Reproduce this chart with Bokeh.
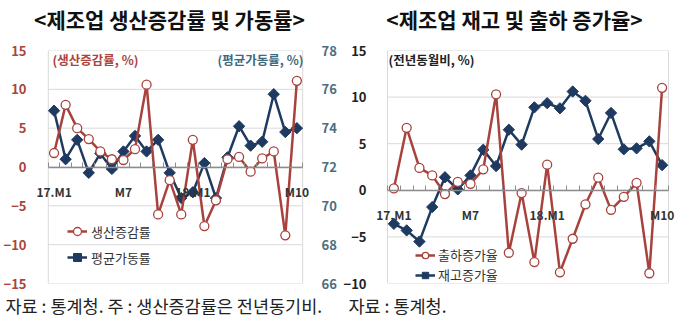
from bokeh.plotting import figure
from bokeh.layouts import row, column
from bokeh.models import Range1d, LinearAxis, FixedTicker, Label, Legend, LegendItem
from bokeh.embed import file_html
from bokeh.resources import INLINE
import math

# ---------------- data ----------------
months = ["17.M1", "M2", "M3", "M4", "M5", "M6", "M7", "M8", "M9", "M10", "M11", "M12",
          "18.M1", "M2", "M3", "M4", "M5", "M6", "M7", "M8", "M9", "M10"]
shown_ticks = {0: "17.M1", 6: "M7", 12: "18.M1", 21: "M10"}

production = [1.8, 8.0, 5.0, 3.6, 2.0, 1.0, 0.9, 2.3, 10.6, -6.1, -1.7, -6.1,
              3.5, -7.6, -4.3, 1.0, 1.3, -0.6, 1.1, 2.0, -8.8, 11.1]
utilization = [74.9, 72.4, 73.4, 71.7, 72.7, 71.9, 72.8, 73.6, 72.8, 73.4, 71.7, 70.4,
               70.7, 72.2, 70.4, 72.5, 74.1, 73.1, 73.3, 75.75, 73.8, 74.0]
shipment = [0.2, 6.7, 2.4, 1.6, -0.4, 0.9, 0.7, 2.25, 10.3, -6.7, -0.3, -7.7,
            2.75, -8.8, -5.2, -1.5, 1.35, -2.1, -0.7, 0.8, -8.9, 11.0]
inventory = [-3.6, -4.3, -5.5, -1.8, 1.4, 0.1, 1.6, 4.35, 2.6, 6.5, 4.9, 8.9,
             9.35, 8.8, 10.6, 9.6, 5.5, 8.3, 4.4, 4.5, 5.25, 2.7]

left_ticks = [-15, -10, -5, 0, 5, 10, 15]
right_ticks = [66, 68, 70, 72, 74, 76, 78]
right2_ticks = [-10, -5, 0, 5, 10, 15]

titles = ["<제조업 생산증감률 및 가동률>", "<제조업 재고 및 출하 증가율>"]
sources = ["자료 : 통계청. 주 : 생산증감률은 전년동기비.", "자료 : 통계청."]

xs = list(range(len(months)))
N = len(months)
PA0, PA1 = -0.5, N - 0.5  # plot-area extent in category units

FONT = "Noto Sans CJK KR"
RED = "#a8423d"
NAVY = "#1f3a60"
RED_LBL = "#a9443e"
TEAL_LBL = "#4b6e80"
GRID = "#d9d9d9"
AXIS = "#8c8c8c"


def blank(p):
    p.outline_line_color = None
    p.background_fill_color = "white"
    p.border_fill_color = "white"


def style_xaxis(p):
    ax = p.xaxis[0]
    ax.fixed_location = 0
    ax.bounds = (PA0, PA1)
    ax.ticker = FixedTicker(ticks=list(shown_ticks.keys()),
                            minor_ticks=[i - 0.5 for i in range(N + 1)])
    ax.major_label_overrides = dict(shown_ticks)
    ax.major_tick_line_color = None
    ax.minor_tick_in = 5
    ax.minor_tick_out = 0
    ax.minor_tick_line_color = AXIS
    ax.minor_tick_line_width = 1
    ax.axis_line_color = AXIS
    ax.axis_line_width = 1.5
    ax.major_label_standoff = 10
    ax.major_label_text_font = FONT
    ax.major_label_text_font_style = "bold"
    ax.major_label_text_font_size = "12px"
    ax.major_label_text_color = "#333333"
    p.xgrid.visible = False
    p.ygrid.visible = False


def style_yaxis(ax, color, standoff):
    ax.axis_line_color = None
    ax.major_tick_line_color = None
    ax.minor_tick_line_color = None
    ax.major_label_standoff = standoff
    ax.major_label_text_font = FONT
    ax.major_label_text_font_style = "bold"
    ax.major_label_text_font_size = "13px"
    ax.major_label_text_color = color


def plot_area(p, ticks):
    # horizontal grid lines and side borders restricted to the plot area
    p.segment(x0=[PA0] * len(ticks), x1=[PA1] * len(ticks), y0=ticks, y1=ticks,
              line_color=GRID, line_width=1)
    p.segment(x0=[PA0, PA1], x1=[PA0, PA1], y0=[min(ticks)] * 2, y1=[max(ticks)] * 2,
              line_color=GRID, line_width=1)


def add_label(p, x, y, text, size, color="#222222", style="normal", align="left"):
    p.add_layout(Label(x=x, y=y, x_units="screen", y_units="screen", text=text,
                       text_font=FONT, text_font_size=size, text_font_style=style,
                       text_color=color, text_align=align, text_baseline="middle"))


# ---------------- title strip ----------------
pt = figure(width=680, height=36, x_range=Range1d(0, 680), y_range=Range1d(0, 36),
            output_backend="svg", toolbar_location=None, x_axis_location=None,
            y_axis_location=None, min_border=0)
blank(pt)
pt.xgrid.visible = False
pt.ygrid.visible = False
add_label(pt, 169, 18, titles[0], "21px", "#111111", "bold", "center")
add_label(pt, 514, 18, titles[1], "21px", "#111111", "bold", "center")

# ---------------- left chart ----------------
p1 = figure(width=340, height=256, x_range=Range1d(PA0 - 12 / 11.77, PA1 + 9 / 11.77),
            y_range=Range1d(-15, 15), output_backend="svg", toolbar_location=None,
            min_border_left=31, min_border_right=29, min_border_top=13, min_border_bottom=8)
blank(p1)
p1.extra_y_ranges = {"right": Range1d(66, 78)}
p1.yaxis[0].ticker = FixedTicker(ticks=left_ticks)
style_yaxis(p1.yaxis[0], RED_LBL, 4)
ra = LinearAxis(y_range_name="right", ticker=FixedTicker(ticks=right_ticks))
style_yaxis(ra, TEAL_LBL, 4)
p1.add_layout(ra, "right")
style_xaxis(p1)
plot_area(p1, left_ticks)

bl = p1.line(xs, utilization, y_range_name="right", line_color=NAVY, line_width=2.5)
bs = p1.scatter(xs, utilization, y_range_name="right", marker="square", angle=math.pi / 4,
                size=8, fill_color=NAVY, line_color=NAVY)
rl = p1.line(xs, production, line_color=RED, line_width=2.5)
rs = p1.scatter(xs, production, marker="circle", size=9, fill_color="white",
                line_color=RED, line_width=1.3)

leg1 = Legend(items=[LegendItem(label="생산증감률", renderers=[rl, rs]),
                     LegendItem(label="평균가동률", renderers=[bl, bs])],
              location=(31, 16), orientation="vertical",
              glyph_width=20, glyph_height=20, label_height=20, spacing=6,
              padding=0, margin=0, label_standoff=4,
              background_fill_alpha=0, border_line_color=None,
              label_text_font=FONT, label_text_font_size="13px", label_text_color="#333333")
p1.add_layout(leg1)

add_label(p1, 16, 224, "(생산증감률, %)", "12.5px", RED_LBL, "bold")
add_label(p1, 267, 224, "(평균가동률, %)", "12.5px", "#3d6a80", "bold", "right")

# ---------------- right chart ----------------
p2 = figure(width=340, height=256, x_range=Range1d(PA0 - 13 / 12.77, PA1 + 8 / 12.77),
            y_range=Range1d(-10, 15), output_backend="svg", toolbar_location=None,
            min_border_left=34, min_border_right=4, min_border_top=14, min_border_bottom=9)
blank(p2)
p2.yaxis[0].ticker = FixedTicker(ticks=right2_ticks)
style_yaxis(p2.yaxis[0], "#222222", 2)
style_xaxis(p2)
plot_area(p2, right2_ticks)

bl2 = p2.line(xs, inventory, line_color=NAVY, line_width=2.5)
bs2 = p2.scatter(xs, inventory, marker="square", angle=math.pi / 4,
                 size=8, fill_color=NAVY, line_color=NAVY)
rl2 = p2.line(xs, shipment, line_color=RED, line_width=2.5)
rs2 = p2.scatter(xs, shipment, marker="circle", size=9, fill_color="white",
                 line_color=RED, line_width=1.3)

leg2 = Legend(items=[LegendItem(label="출하증가율", renderers=[rl2, rs2]),
                     LegendItem(label="재고증가율", renderers=[bl2, bs2])],
              location=(41, -1), orientation="vertical",
              glyph_width=20, glyph_height=16, label_height=16, spacing=1,
              padding=0, margin=0, label_standoff=3,
              background_fill_alpha=0, border_line_color=None,
              label_text_font=FONT, label_text_font_size="13px", label_text_color="#333333")
p2.add_layout(leg2)

add_label(p2, 14, 224, "(전년동월비, %)", "12.5px", "#222222", "bold")

# ---------------- source strip ----------------
pf = figure(width=680, height=35, x_range=Range1d(0, 680), y_range=Range1d(0, 35),
            output_backend="svg", toolbar_location=None, x_axis_location=None,
            y_axis_location=None, min_border=0)
blank(pf)
pf.xgrid.visible = False
pf.ygrid.visible = False
add_label(pf, 5, 22, sources[0], "17.5px", "#222222")
add_label(pf, 348, 22, sources[1], "17.5px", "#222222")

layout = column(pt, row(p1, p2), pf)
open("out.html", "w").write(file_html(layout, INLINE))
